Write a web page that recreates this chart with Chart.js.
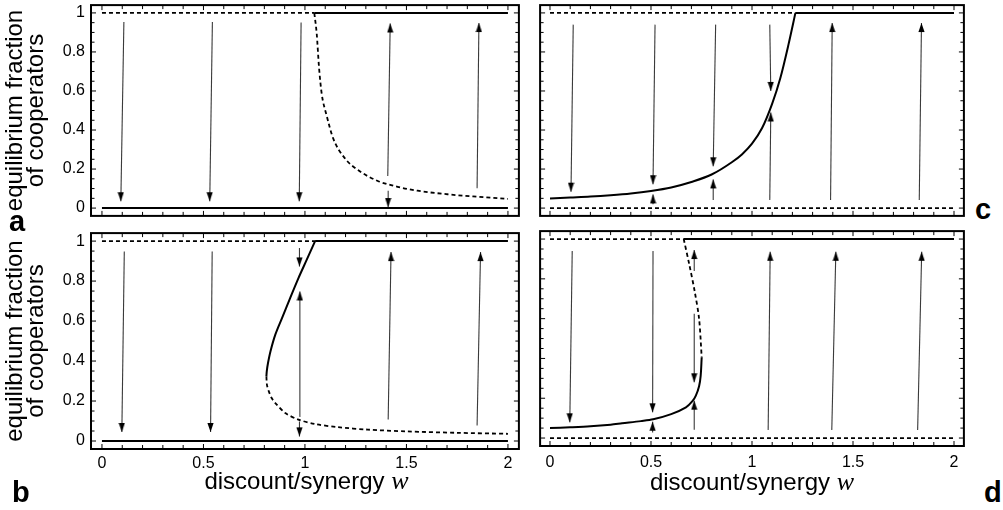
<!DOCTYPE html>
<html>
<head>
<meta charset="utf-8">
<script src="https://cdn.jsdelivr.net/npm/chart.js@4.4.1/dist/chart.umd.min.js"></script>
<style>
  body { margin: 0; background: #fff; width: 1003px; height: 510px; position: relative; overflow: hidden;
         font-family: 'Liberation Sans', Arial, sans-serif; color: #000; }
  canvas { position: absolute; }
  .tag { position: absolute; font-weight: bold; font-size: 29px; line-height: 29px; }
  .xtitle { position: absolute; font-size: 24px; line-height: 24px; text-align: center; white-space: nowrap; }
  .xtitle i { font-family: 'Liberation Serif', serif; font-size: 26px; }
</style>
</head>
<body>
<canvas id="chartA" width="524" height="221" style="left:0;top:0"></canvas>
<canvas id="chartB" width="524" height="250" style="left:0;top:228px"></canvas>
<canvas id="chartC" width="434" height="221" style="left:535px;top:0"></canvas>
<canvas id="chartD" width="434" height="252" style="left:535px;top:226px"></canvas>

<div class="tag" style="left:9px;top:207px">a</div>
<div class="tag" style="left:12px;top:478px">b</div>
<div class="tag" style="left:975px;top:195px">c</div>
<div class="tag" style="left:984px;top:478px">d</div>
<div class="xtitle" style="left:102px;width:409px;top:469px">discount/synergy <i>w</i></div>
<div class="xtitle" style="left:547px;width:410px;top:470px">discount/synergy <i>w</i></div>

<script>
// 축 눈금
const xTickLabels = [0, 0.5, 1, 1.5, 2];
const yTickLabels = [0, 0.2, 0.4, 0.6, 0.8, 1];

// a: 아래 안정선, 위 불안정/안정선, 불안정 곡선
const aLowW = [0, 2], aLowY = [0, 0];
const aTopDashW = [0, 1.046], aTopDashY = [1, 1];
const aTopW = [1.046, 2], aTopY = [1, 1];
const aCurveW = [1.046, 1.058, 1.069, 1.082, 1.107, 1.139, 1.196, 1.27, 1.359, 1.457, 1.555, 1.7, 1.85, 2.0];
const aCurveY = [1.0, 0.893, 0.725, 0.59, 0.474, 0.357, 0.256, 0.189, 0.139, 0.109, 0.089, 0.071, 0.058, 0.047];
// 화살표: [w 시작, y 시작, w 끝, y 끝]
const aArrows = [
  [0.108, 0.953, 0.093, 0.035],
  [0.544, 0.953, 0.531, 0.035],
  [0.981, 0.951, 0.972, 0.035],
  [1.408, 0.164, 1.42, 0.946],
  [1.41, 0.089, 1.41, 0.005],
  [1.848, 0.102, 1.857, 0.948]
];

// b
const bLowW = [0, 2], bLowY = [0, 0];
const bTopDashW = [0, 1.05], bTopDashY = [1, 1];
const bTopW = [1.05, 2], bTopY = [1, 1];
const bSolidW = [1.05, 1.009, 0.968, 0.927, 0.887, 0.854, 0.83, 0.818, 0.812, 0.81];
const bSolidY = [1.0, 0.907, 0.815, 0.715, 0.615, 0.532, 0.448, 0.39, 0.35, 0.323];
const bDashW = [0.81, 0.813, 0.822, 0.836, 0.854, 0.903, 0.968, 1.05, 1.164, 1.31, 1.5, 1.75, 2.0];
const bDashY = [0.323, 0.28, 0.248, 0.215, 0.19, 0.14, 0.107, 0.085, 0.069, 0.057, 0.048, 0.041, 0.036];
const bArrows = [
  [0.11, 0.948, 0.098, 0.045],
  [0.543, 0.948, 0.535, 0.045],
  [0.973, 0.965, 0.973, 0.873],
  [0.973, 0.123, 0.975, 0.748],
  [0.973, 0.098, 0.973, 0.023],
  [1.41, 0.107, 1.424, 0.945],
  [1.848, 0.078, 1.865, 0.945]
];

// c
const cLowDashW = [0, 2], cLowDashY = [0, 0];
const cTopDashW = [0, 1.215], cTopDashY = [1, 1];
const cTopW = [1.215, 2], cTopY = [1, 1];
const cCurveW = [0, 0.1, 0.2, 0.3, 0.4, 0.5, 0.6, 0.7, 0.8, 0.9, 0.95, 1.0, 1.05, 1.1, 1.14, 1.18, 1.215];
const cCurveY = [0.049, 0.054, 0.059, 0.066, 0.075, 0.088, 0.106, 0.134, 0.172, 0.235, 0.275, 0.33, 0.41, 0.535, 0.665, 0.835, 1.0];
const cArrows = [
  [0.115, 0.94, 0.104, 0.084],
  [0.52, 0.94, 0.51, 0.122],
  [0.51, 0.02, 0.51, 0.07],
  [0.82, 0.94, 0.808, 0.214],
  [0.808, 0.042, 0.808, 0.147],
  [1.088, 0.94, 1.093, 0.6],
  [1.088, 0.042, 1.093, 0.49],
  [1.389, 0.042, 1.397, 0.948],
  [1.828, 0.042, 1.839, 0.948]
];

// d
const dLowDashW = [0, 2], dLowDashY = [0, 0];
const dTopDashW = [0, 0.662], dTopDashY = [1, 1];
const dTopW = [0.662, 2], dTopY = [1, 1];
const dDashW = [0.662, 0.69, 0.717, 0.738, 0.751];
const dDashY = [1.0, 0.87, 0.733, 0.6, 0.406];
const dSolidW = [0, 0.1, 0.2, 0.3, 0.357, 0.45, 0.511, 0.6, 0.673, 0.705, 0.722, 0.738, 0.746, 0.751];
const dSolidY = [0.05, 0.054, 0.059, 0.067, 0.074, 0.085, 0.094, 0.12, 0.154, 0.185, 0.213, 0.26, 0.314, 0.406];
const dArrows = [
  [0.11, 0.94, 0.098, 0.079],
  [0.51, 0.94, 0.508, 0.129],
  [0.508, 0.028, 0.508, 0.082],
  [0.714, 0.84, 0.714, 0.945],
  [0.714, 0.625, 0.714, 0.28],
  [0.714, 0.042, 0.714, 0.188],
  [1.08, 0.04, 1.09, 0.936],
  [1.395, 0.04, 1.415, 0.936],
  [1.82, 0.04, 1.84, 0.936]
];

Chart.defaults.font.family = "'Liberation Sans', Arial, sans-serif";
Chart.defaults.color = '#000';

// 화살촉 이미지 (끝점이 이미지 중심)
const head = document.createElement('canvas');
head.width = 7; head.height = 20;
(function () {
  const g = head.getContext('2d');
  g.fillStyle = '#000';
  g.beginPath();
  g.moveTo(3.5, 10);
  g.lineTo(6.6, 19);
  g.lineTo(0.4, 19);
  g.closePath();
  g.fill();
})();

// smooth: 'mono' = x 방향 단조, 숫자 = 장력
function line(ws, ys, dashed, smooth) {
  return {
    data: ws.map((w, i) => ({ x: w, y: ys[i] })),
    showLine: true,
    borderColor: '#000',
    borderWidth: dashed ? 1.8 : 2,
    borderDash: dashed ? [4, 3] : [],
    pointRadius: 0,
    cubicInterpolationMode: smooth === 'mono' ? 'monotone' : 'default',
    tension: typeof smooth === 'number' ? smooth : 0
  };
}

function arrow(a) {
  const up = a[3] > a[1];
  return {
    data: [{ x: a[0], y: a[1] }, { x: a[2], y: a[3] }],
    showLine: true,
    borderColor: '#3a3a3a',
    borderWidth: 1.1,
    pointRadius: [0, 4],
    pointStyle: [false, head],
    pointRotation: up ? 0 : 180,
    tension: 0
  };
}

// 테두리와 안쪽 눈금
const framePlugin = {
  id: 'frame',
  afterDatasetsDraw(chart) {
    const { ctx, chartArea: a, scales: { x, y } } = chart;
    ctx.save();
    ctx.strokeStyle = '#000';
    ctx.lineWidth = 1;
    ctx.beginPath();
    for (let i = 0; i <= 20; i++) {
      const px = x.getPixelForValue(i / 10);
      const len = i % 5 === 0 ? 5 : 4;
      ctx.moveTo(px, a.bottom); ctx.lineTo(px, a.bottom - len);
      ctx.moveTo(px, a.top); ctx.lineTo(px, a.top + len);
    }
    for (let i = 0; i <= 20; i++) {
      const py = y.getPixelForValue(i / 20);
      const len = i % 4 === 0 ? 5 : 3.5;
      ctx.moveTo(a.left, py); ctx.lineTo(a.left + len, py);
      ctx.moveTo(a.right, py); ctx.lineTo(a.right - len, py);
    }
    ctx.stroke();
    ctx.lineWidth = 2;
    ctx.strokeRect(a.left, a.top, a.right - a.left, a.bottom - a.top);
    ctx.restore();
  }
};

function makeChart(id, datasets, opt) {
  const yAxis = {
    type: 'linear', min: -0.04, max: 1.04, display: opt.yLabels,
    grid: { display: false, drawTicks: false }, border: { display: false },
    afterBuildTicks: s => { s.ticks = yTickLabels.map(v => ({ value: v })); },
    afterFit: s => { s.width = opt.yLabels ? 91 : 0; s.paddingTop = 0; s.paddingBottom = 0; },
    ticks: { padding: 6, font: { size: 16 }, callback: v => String(v) },
    title: {
      display: true, text: ['equilibrium fraction', 'of cooperators'],
      font: { size: 24, lineHeight: '21px' }, padding: { top: 5, bottom: 0 }
    }
  };
  const xAxis = {
    type: 'linear', min: opt.xMin, max: opt.xMax, display: opt.xLabels,
    grid: { display: false, drawTicks: false }, border: { display: false },
    afterBuildTicks: s => { s.ticks = xTickLabels.map(v => ({ value: v })); },
    afterFit: s => { s.height = opt.xLabels ? opt.xHeight : 0; s.paddingLeft = 0; s.paddingRight = 0; },
    ticks: { padding: opt.xPad, font: { size: 16 }, autoSkip: false, maxRotation: 0, callback: v => String(v) }
  };
  return new Chart(document.getElementById(id), {
    type: 'scatter',
    data: { datasets },
    options: {
      responsive: false,
      animation: false,
      events: [],
      layout: { padding: opt.padding },
      plugins: { legend: { display: false }, tooltip: { enabled: false } },
      scales: { x: xAxis, y: yAxis }
    },
    plugins: [framePlugin]
  });
}

makeChart('chartA', [
  line(aLowW, aLowY, false),
  line(aTopDashW, aTopDashY, true),
  line(aTopW, aTopY, false),
  line(aCurveW, aCurveY, true, 'mono'),
  ...aArrows.map(arrow)
], { yLabels: true, xLabels: false, xMin: -0.054, xMax: 2.054, padding: { left: 0, top: 4, right: 2, bottom: 2 } });

makeChart('chartB', [
  line(bLowW, bLowY, false),
  line(bTopDashW, bTopDashY, true),
  line(bTopW, bTopY, false),
  line(bSolidW, bSolidY, false, 0.3),
  line(bDashW, bDashY, true, 0.3),
  ...bArrows.map(arrow)
], { yLabels: true, xLabels: true, xHeight: 29, xPad: 5, xMin: -0.054, xMax: 2.054, padding: { left: 0, top: 4, right: 2, bottom: 0 } });

makeChart('chartC', [
  line(cLowDashW, cLowDashY, true),
  line(cTopDashW, cTopDashY, true),
  line(cTopW, cTopY, false),
  line(cCurveW, cCurveY, false, 'mono'),
  ...cArrows.map(arrow)
], { yLabels: false, xLabels: false, xMin: -0.049, xMax: 2.049, padding: { left: 2, top: 4, right: 2, bottom: 2 } });

makeChart('chartD', [
  line(dLowDashW, dLowDashY, true),
  line(dTopDashW, dTopDashY, true),
  line(dTopW, dTopY, false),
  line(dDashW, dDashY, true, 0.3),
  line(dSolidW, dSolidY, false, 0.3),
  ...dArrows.map(arrow)
], { yLabels: false, xLabels: true, xHeight: 32, xPad: 7, xMin: -0.049, xMax: 2.049, padding: { left: 2, top: 4, right: 2, bottom: 0 } });
</script>
</body>
</html>
